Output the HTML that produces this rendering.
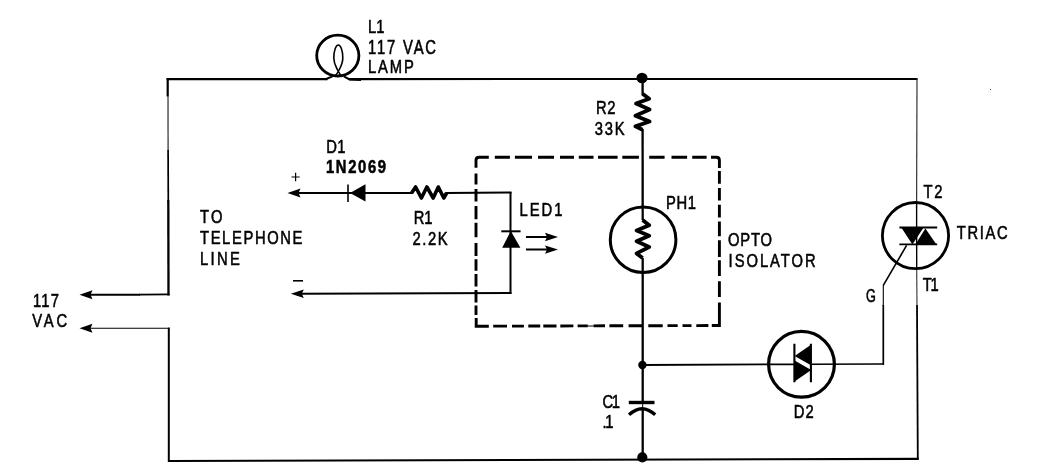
<!DOCTYPE html>
<html>
<head>
<meta charset="utf-8">
<title>Telephone ring lamp circuit</title>
<style>
  html, body { margin: 0; padding: 0; background: #ffffff; }
  body { width: 1037px; height: 475px; overflow: hidden; }
  svg { display: block; }
  text { font-family: "Liberation Sans", sans-serif; font-size: 17.6px; fill: #000; stroke: #000; stroke-width: 0.55px; }
  .b { font-weight: bold; }
  .w { stroke: #000; fill: none; stroke-linecap: butt; stroke-linejoin: miter; }
  .w.r { stroke-linejoin: round; }
  .f { fill: #000; stroke: none; }
</style>
</head>
<body>
<svg width="1037" height="475" viewBox="0 0 1037 475">
  <rect x="0" y="0" width="1037" height="475" fill="#ffffff"/>

  <!-- ===== outer loop wires ===== -->
  <g class="w">
    <!-- top line -->
    <path d="M166.6 79.1 L327.5 79.1 M349 79.1 L917.6 79" stroke-width="2.1"/>
    <!-- left vertical (upper part) -->
    <path d="M167.7 78 L167.7 96.5" stroke-width="2.2"/>
    <path d="M168 96 L168.1 150.5" stroke-width="1.3" stroke="#3a3a3a"/>
    <path d="M168.1 150 L168.3 200.5" stroke-width="1.7"/>
    <path d="M168.3 200 L168.5 295.6" stroke-width="2.3"/>
    <!-- left vertical (lower part) -->
    <path d="M168.8 327.6 L168.8 462" stroke-width="2"/>
    <!-- bottom line -->
    <path d="M168.2 461 L918.7 458.8" stroke-width="2.2"/>
    <!-- right vertical above triac (thin) -->
    <path d="M917 79 L916.6 203" stroke-width="1.2" stroke="#333"/>
    <!-- right vertical through/below triac -->
    <path d="M916.6 203 L916.7 270" stroke-width="1.4"/>
    <path d="M916.7 270 L917 306" stroke-width="1.1" stroke="#333"/>
    <path d="M917 305 L917.8 459.6" stroke-width="1.8"/>
    <!-- 117 VAC arrows -->
    <path d="M88 294.8 L140 294.7" stroke-width="2"/>
    <path d="M139 294.6 L169.6 294.4" stroke-width="1.6"/>
    <path d="M88 328.2 L169.6 328.2" stroke-width="1.1"/>
  </g>
  <path class="f" d="M79.5 294.8 L92.5 290.3 L90.5 294.8 L92.5 299.3 Z"/>
  <path class="f" d="M79.5 328.2 L92.5 323.7 L90.5 328.2 L92.5 332.7 Z"/>

  <!-- ===== lamp L1 ===== -->
  <ellipse class="w" cx="337.8" cy="55.6" rx="21.1" ry="20.4" stroke-width="2.8"/>
  <path class="w" d="M334.6 76.8 C336.5 74.4 338 72.2 339.6 69 C341.5 65.3 342.8 62 342.8 58 C342.8 50 340.5 45 338.3 45 C336.1 45 333.8 50 333.8 58 C333.8 62 335 65.3 337 69 C338.6 72.2 340 74.4 342 76.8" stroke-width="1.6"/>
  <path class="w" d="M325.5 79.2 L332.5 76.4 M343.8 76.4 L349.5 79.4 L361 79.9" stroke-width="2"/>

  <!-- ===== main centre vertical ===== -->
  <g class="w" stroke-width="2.3">
    <path d="M642.6 78 L642.6 95"/>
    <path d="M642.6 129 L642.7 220"/>
    <path d="M642.7 258 L642.7 402"/>
    <path d="M642.7 408.5 L642.7 458"/>
  </g>
  <ellipse class="f" cx="642" cy="78" rx="5.6" ry="5.3"/>
  <circle class="f" cx="642.4" cy="365" r="4.2"/>
  <circle class="f" cx="642.3" cy="457.4" r="5.1"/>

  <!-- R2 zigzag -->
  <path class="w r" d="M642.5 93.7 L649.2 98.7 L636 103.5 L649.6 109.5 L635.4 115.7 L649.6 121.5 L635.4 126.4 L642.5 129.8" stroke-width="3.8"/>

  <!-- PH1 -->
  <circle class="w" cx="643.1" cy="239.7" r="32.8" stroke-width="3"/>
  <path class="w r" d="M642.6 220 L649.2 225.2 L636.6 230.6 L649.2 235.7 L636.6 241.2 L649.2 247 L636.6 253.4 L642.6 258" stroke-width="3.8"/>

  <!-- C1 capacitor -->
  <path class="w" d="M628.8 402.5 L654.5 402.5" stroke-width="3.4"/>
  <path class="w" d="M642.7 402 L642.7 409" stroke-width="1"/>
  <path class="w" d="M629 414.8 Q642 402.6 655.2 414.8" stroke-width="3.3"/>

  <!-- ===== telephone line side ===== -->
  <g class="w" stroke-width="2">
    <path d="M296 193 L413 193"/>
    <path d="M445.5 193 L511.5 192.6"/>
    <path d="M510.5 192 L510.5 293.8"/>
    <path d="M299 293.8 L511.5 293"/>
  </g>
  <path class="f" d="M287.5 193 L300.5 188.6 L298.5 193 L300.5 197.4 Z"/>
  <path class="f" d="M290.8 293.8 L303.8 289.6 L301.8 293.8 L303.8 298 Z"/>
  <!-- plus / minus -->
  <path class="w" d="M291.5 177 L299.7 177 M295.6 172.8 L295.6 181.2" stroke-width="1.2"/>
  <path class="w" d="M293 280.8 L303 280.8" stroke-width="1.6"/>

  <!-- D1 diode -->
  <path class="w" d="M348 184.5 L348 202" stroke-width="1.6"/>
  <path class="f" d="M350 193 L365.5 184.3 L365.5 201.5 Z"/>

  <!-- R1 zigzag -->
  <path class="w r" d="M411.6 193 L415.6 187 L421.4 198 L426.9 187 L433.2 198 L438.3 187 L443.8 198 L446.6 193" stroke-width="3.6"/>

  <!-- LED1 -->
  <path class="w" d="M501.3 231.3 L520.6 231.3" stroke-width="2"/>
  <path class="f" d="M510.8 231 L520.4 247.8 L502.2 247.8 Z"/>
  <path class="w" d="M526 237 L548 237 M526 249.6 L548 249.6" stroke-width="2"/>
  <path class="f" d="M558 237 L545 232.8 L547 237 L545 241.2 Z"/>
  <path class="f" d="M558 249.6 L545 245.4 L547 249.6 L545 253.8 Z"/>

  <!-- ===== dashed opto-isolator box ===== -->
  <g class="w" stroke-width="2.9">
    <!-- top-left corner + top edge + top-right corner -->
    <path d="M476 167.8 L476 160.3 Q476 157.3 479.2 157.3 L488.8 157.3"/>
    <path d="M494.8 157.3 L509.9 157.3 M514.9 157.3 L532 157.3 M538 157.3 L554 157.3 M560 157.3 L574 157.3 M578.8 157.3 L593.5 157.3 M598 157.3 L617.6 157.3 M622.3 157.3 L638.9 157.3 M649.2 157.3 L664.6 157.3 M671.5 157.3 L687.1 157.3 M692.2 157.3 L706.6 157.3"/>
    <path d="M711 157.2 L716.4 157.2 Q719.4 157.2 719.4 160.2 L719.4 167.9"/>
    <!-- right edge -->
    <path d="M719.4 171 L719.4 183.7 M719.4 188 L719.4 200.5 M719.4 204.7 L719.4 217.4 M719.4 221.6 L719.4 236.3 M719.4 240.3 L719.4 257 M719.4 260.3 L719.4 276 M719.4 281.3 L719.4 297"/>
    <path d="M719.4 302.4 L719.4 325.5 L711.8 325.5"/>
    <!-- bottom edge -->
    <path d="M493.2 326.1 L507 326.1 M512 326.1 L523.9 326.1 M528.3 326.0 L540.2 326.0 M543.3 326.0 L556.5 326.0 M560.3 326.0 L573.4 325.9 M577.6 325.9 L587.8 325.9 M593.5 325.9 L605 325.8 M609.4 325.8 L623.2 325.8 M628.6 325.8 L642.4 325.7 M648.3 325.7 L662.7 325.7 M667.5 325.6 L677.7 325.6 M682.5 325.6 L691.5 325.6 M696.3 325.6 L708.4 325.5"/>
    <path d="M476.2 318 L476.2 326.2 L488.8 326.2"/>
    <!-- thin link between two bottom dashes -->
    <path d="M587.8 326 L593.5 326" stroke-width="1"/>
    <!-- left edge -->
    <path d="M476 173.4 L476 184.5 M476 189 L476 201.4 M476 205.9 L476 219.3 M476 222.8 L476 237.3 M476 243 L476 256 M476 259.2 L476 270.8 M476 274 L476 286.6 M476 290 L476 302.4 M476 305.5 L476 315"/>
  </g>

  <!-- ===== D2 diac ===== -->
  <g class="w">
    <path d="M642 365 L795 364.3" stroke-width="1.8"/>
    <path d="M810.5 364.2 L883.9 364" stroke-width="1.6"/>
    <path d="M883.3 285 L883.3 306" stroke-width="1.1"/>
    <path d="M883.3 305 L883.3 364.8" stroke-width="1.7"/>
    <path d="M906.6 245.4 L883.3 285.4" stroke-width="1.6"/>
  </g>
  <circle class="w" cx="801.5" cy="364.3" r="32.9" stroke-width="3.2"/>
  <path class="w" d="M794.4 343.8 L794.4 382.2 M810.9 343.8 L810.9 382.2" stroke-width="2.1"/>
  <path class="f" d="M794.6 356 L811 344.8 L811 365.2 Z"/>
  <path class="f" d="M794.6 360.6 L811.2 370 L794.6 381.6 Z"/>

  <!-- ===== TRIAC ===== -->
  <circle class="w" cx="915.5" cy="235.6" r="33.1" stroke-width="2.8"/>
  <path class="w" d="M899.4 227.5 L937.2 227.5 M899.4 244.4 L937.2 244.4" stroke-width="1.9"/>
  <path class="f" d="M901.3 227.5 L923.6 227.5 L912.4 244.4 Z"/>
  <path class="f" d="M915.4 244.6 L936.4 244.6 L925.4 228.4 Z"/>

  <!-- tiny scan speck -->
  <rect x="990" y="89" width="1" height="1" fill="#555"/>

  <!-- ===== labels ===== -->
  <g opacity="0.999">
    <text transform="translate(368.0 32.5) scale(0.84 1)" x="0" y="0" textLength="19.6" lengthAdjust="spacing">L1</text>
    <text transform="translate(368.0 54.4) scale(0.84 1.12)" x="0" y="0" textLength="81.0" lengthAdjust="spacing">117 VAC</text>
    <text transform="translate(368.0 73.3) scale(0.84 1)" x="0" y="0" textLength="54.5" lengthAdjust="spacing">LAMP</text>
    <text transform="translate(326.2 152.5) scale(0.84 1)" x="0" y="0" textLength="23.0" lengthAdjust="spacing">D1</text>
    <text class="b" transform="translate(326.0 173.0) scale(0.84 1.06)" x="0" y="0" textLength="71.4" lengthAdjust="spacing">1N2069</text>
    <text transform="translate(200.0 223.0) scale(0.84 1)" x="0" y="0" textLength="26.8" lengthAdjust="spacing">TO</text>
    <text transform="translate(200.0 243.5) scale(0.84 1)" x="0" y="0" textLength="122.0" lengthAdjust="spacing">TELEPHONE</text>
    <text transform="translate(200.0 265.0) scale(0.84 1)" x="0" y="0" textLength="47.6" lengthAdjust="spacing">LINE</text>
    <text transform="translate(413.7 223.8) scale(0.84 1)" x="0" y="0" textLength="22.4" lengthAdjust="spacing">R1</text>
    <text transform="translate(412.5 244.5) scale(0.84 1)" x="0" y="0" textLength="41.7" lengthAdjust="spacing">2.2K</text>
    <text transform="translate(33.0 306.5) scale(0.84 1)" x="0" y="0" textLength="31.0" lengthAdjust="spacing">117</text>
    <text transform="translate(32.2 327.0) scale(0.84 1)" x="0" y="0" textLength="41.7" lengthAdjust="spacing">VAC</text>
    <text transform="translate(596.0 114.4) scale(0.84 1)" x="0" y="0" textLength="23.2" lengthAdjust="spacing">R2</text>
    <text transform="translate(594.7 134.5) scale(0.84 1)" x="0" y="0" textLength="35.7" lengthAdjust="spacing">33K</text>
    <text transform="translate(519.5 215.8) scale(0.84 1)" x="0" y="0" textLength="51.2" lengthAdjust="spacing">LED1</text>
    <text transform="translate(666.0 208.8) scale(0.84 1)" x="0" y="0" textLength="35.7" lengthAdjust="spacing">PH1</text>
    <text transform="translate(728.0 245.5) scale(0.84 1)" x="0" y="0" textLength="52.4" lengthAdjust="spacing">OPTO</text>
    <text transform="translate(728.6 267.0) scale(0.84 1)" x="0" y="0" textLength="103.6" lengthAdjust="spacing">ISOLATOR</text>
    <text transform="translate(923.5 198.0) scale(0.84 1)" x="0" y="0" textLength="22.6" lengthAdjust="spacing">T2</text>
    <text transform="translate(956.8 239.4) scale(0.84 1)" x="0" y="0" textLength="60.7" lengthAdjust="spacing">TRIAC</text>
    <text transform="translate(922.7 290.6) scale(0.84 1)" x="0" y="0" textLength="19.0" lengthAdjust="spacing">T1</text>
    <text transform="translate(866.0 301.6) scale(0.72 1.0)" x="0" y="0">G</text>
    <text transform="translate(602.6 407.6) scale(0.84 1)" x="0" y="0" textLength="20.8" lengthAdjust="spacing">C1</text>
    <text transform="translate(602.6 428.0) scale(0.84 1)" x="0" y="0" textLength="13.1" lengthAdjust="spacing">.1</text>
    <text transform="translate(793.8 417.5) scale(0.84 1)" x="0" y="0" textLength="23.8" lengthAdjust="spacing">D2</text>
  </g>
</svg>
</body>
</html>
